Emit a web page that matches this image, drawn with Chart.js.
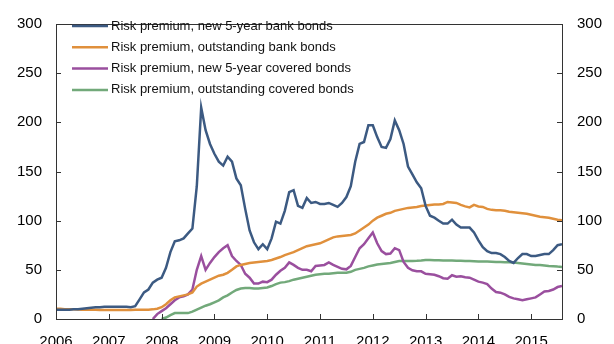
<!DOCTYPE html>
<html>
<head>
<meta charset="utf-8">
<script src="https://cdn.jsdelivr.net/npm/chart.js@4"></script>
<style>
  html, body { margin: 0; padding: 0; background: #fff; }
  #chart { display: block; }
</style>
</head>
<body>
<canvas id="chart" width="614" height="344"></canvas>
<script>
// Monthly observations, Jan 2006 .. Aug 2015 (index = months since Jan 2006)
const yearLabels = ['2006', '2007', '2008', '2009', '2010', '2011', '2012', '2013', '2014', '2015'];
const yearStarts = [0, 12, 24, 36, 48, 60, 72, 84, 96, 108];
const yTicks = [0, 50, 100, 150, 200, 250, 300];

const seriesNames = [
  'Risk premium, new 5-year bank bonds',
  'Risk premium, outstanding bank bonds',
  'Risk premium, new 5-year covered bonds',
  'Risk premium, outstanding covered bonds'
];
const seriesColors = ['#3c5a82', '#e0903c', '#9a4f9e', '#72a97a'];

const newBank = [
  9.5, 9.5, 9.5, 9.5, 10, 10, 10.5, 11, 11.5, 12,
  12, 12.5, 12.5, 12.5, 12.5, 12.5, 12.5, 12, 13, 20,
  27, 30, 37, 40, 42, 52, 68, 79, 80, 82,
  87, 92, 135, 215, 192, 178, 168, 160, 156, 165,
  160, 143, 136, 112, 90, 78, 71, 76, 71, 82,
  99, 97, 110, 129, 131, 115, 113, 123, 118, 119,
  117, 117, 118, 116, 114, 118, 124, 135, 160, 178,
  180, 197, 197, 185, 175, 174, 183, 202, 192, 178,
  155, 147, 139, 133, 115, 105, 103, 100, 97, 97,
  101, 96, 93, 93, 93, 88, 80, 73, 69, 67,
  67, 66, 63, 59, 57, 62, 66, 66, 64, 64,
  65, 66, 66, 70, 75, 76
];

const outBank = [
  10.5, 10.3, 10, 10, 9.8, 9.6, 9.5, 9.4, 9.3, 9.3,
  9.2, 9.2, 9.2, 9.2, 9.2, 9.2, 9.2, 9.2, 9.3, 9.3,
  9.4, 9.5, 9.8, 10.5, 12, 15, 19, 22, 23, 24,
  25, 27, 33, 36, 38, 40, 42, 44, 45, 47,
  50, 53.5, 55, 56, 57, 57.5, 58, 58.5, 59, 60,
  61.5, 63, 65, 66.5, 68, 70, 72, 74, 75, 76,
  77, 79, 81, 83, 84, 84.5, 85, 85.5, 87, 90,
  93, 96, 100, 103, 105, 107, 108, 110, 111, 112,
  113, 113.5, 114, 115, 115.5, 116, 116.5, 116.5, 117, 119,
  118.5, 118, 116, 114.5, 113.5, 116, 114.5, 114, 112, 111,
  110.5, 110.5, 110, 109, 108.5, 108, 107.5, 107, 106, 105,
  104, 103.5, 103, 102, 101, 100.5
];

const newCovered = [
  null, null, null, null, null, null, null, null, null, null,
  null, null, null, null, null, null, null, null, null, null,
  null, null, 0, 5, 8, 11, 15, 19, 22, 23,
  25, 30, 50, 64, 50, 57, 63, 68, 72, 75,
  64, 59, 55, 46, 42, 36, 36, 38, 37.5, 40,
  45, 49, 52, 57.5, 55, 52, 50, 50, 48.5, 54,
  54.5, 55, 57.5, 55, 53, 51, 50.5, 54, 63, 72,
  76, 82, 88, 77, 69, 66, 66.5, 72, 70, 58,
  52, 49.5, 48.5, 48.5, 46, 45.5, 45, 43.5, 41.5, 41,
  44.5, 43, 43.5, 42.5, 42, 40, 38, 37, 35.5, 31,
  27.5, 26.8, 25, 22.5, 21, 20, 19, 20, 21, 22,
  25, 28, 28.5, 30, 32.5, 33.5
];

const outCovered = [
  null, null, null, null, null, null, null, null, null, null,
  null, null, null, null, null, null, null, null, null, null,
  null, null, null, null, 0, 1.5, 4, 6, 6, 6,
  6, 7.5, 9.5, 11.5, 13.5, 15, 17, 19, 22, 24,
  27, 29.5, 31, 31.5, 31.5, 31, 31, 31.5, 32, 33.5,
  35.5, 37, 37.5, 38.5, 40, 41, 42, 43, 44, 45,
  45.5, 46, 46, 46.5, 47, 47, 47, 48, 50, 51,
  52, 53.5, 54.5, 55.5, 56, 56.5, 57, 58, 59, 59,
  59, 59, 59.2, 59.5, 60, 60, 59.8, 59.7, 59.5, 59.5,
  59.5, 59.3, 59.2, 59, 59, 58.8, 58.6, 58.5, 58.5, 58.3,
  58, 58, 57.8, 57.8, 57.5, 57, 56.5, 56, 55.5, 55,
  54.8, 54.4, 54, 53.7, 53.3, 53
];

const allSeries = [newBank, outBank, newCovered, outCovered];
const FONT = '"Liberation Sans", Arial, Helvetica, sans-serif';

// frame, inward tick marks and in-plot legend
const framePlugin = {
  id: 'frame',
  afterDraw(chart) {
    const ctx = chart.ctx;
    const a = chart.chartArea;
    const x = chart.scales.x, y = chart.scales.y;
    ctx.save();
    ctx.strokeStyle = '#333';
    ctx.lineWidth = 1;
    ctx.strokeRect(Math.round(a.left) + 0.5, Math.round(a.top) + 0.5,
      Math.round(a.right - a.left), Math.round(a.bottom - a.top));
    ctx.beginPath();
    yTicks.forEach(v => {
      const py = Math.round(y.getPixelForValue(v)) + 0.5;
      ctx.moveTo(a.left, py); ctx.lineTo(a.left + 5, py);
      ctx.moveTo(a.right, py); ctx.lineTo(a.right - 5, py);
    });
    yearStarts.forEach(v => {
      const px = Math.round(x.getPixelForValue(v)) + 0.5;
      ctx.moveTo(px, a.bottom); ctx.lineTo(px, a.bottom - 5);
    });
    ctx.stroke();

    // legend
    ctx.font = '13px ' + FONT;
    ctx.textBaseline = 'middle';
    ctx.fillStyle = '#111';
    chart.data.datasets.forEach((ds, i) => {
      const ly = 26 + i * 21.3;
      ctx.strokeStyle = ds.borderColor;
      ctx.lineWidth = 2.5;
      ctx.beginPath();
      ctx.moveTo(72, ly); ctx.lineTo(108, ly);
      ctx.stroke();
      ctx.fillText(ds.label, 111, ly);
    });
    ctx.restore();
  }
};

const yAxisBase = {
  min: 0,
  max: 300,
  grid: { display: false, drawTicks: false },
  border: { display: false },
  ticks: { stepSize: 50, padding: 14, color: '#000', font: { family: FONT, size: 15 } }
};

new Chart(document.getElementById('chart'), {
  type: 'line',
  data: {
    datasets: allSeries.map((s, i) => ({
      label: seriesNames[i],
      data: s.map((v, m) => ({ x: m, y: v })),
      borderColor: seriesColors[i],
      backgroundColor: seriesColors[i],
      borderWidth: 2.5,
      pointRadius: 0,
      tension: 0,
      spanGaps: false
    }))
  },
  options: {
    responsive: false,
    animation: false,
    devicePixelRatio: 1,
    layout: { padding: { top: 15, left: 0, right: 0, bottom: 0 } },
    plugins: {
      legend: { display: false },
      tooltip: { enabled: false }
    },
    scales: {
      x: {
        type: 'linear',
        min: 0,
        max: 115,
        grid: { display: false, drawTicks: false },
        border: { display: false },
        afterBuildTicks: s => { s.ticks = yearStarts.map(v => ({ value: v })); },
        afterFit: s => { s.height = 25; },
        ticks: {
          padding: 14,
          autoSkip: false,
          maxRotation: 0,
          color: '#000',
          font: { family: FONT, size: 15 },
          callback: (v, i) => yearLabels[i]
        }
      },
      y: Object.assign({}, yAxisBase, {
        position: 'left',
        afterFit: s => { s.width = 56; }
      }),
      y2: Object.assign({}, yAxisBase, {
        position: 'right',
        afterFit: s => { s.width = 52; },
        ticks: Object.assign({}, yAxisBase.ticks, { padding: 15 })
      })
    }
  },
  plugins: [framePlugin]
});
</script>
</body>
</html>
